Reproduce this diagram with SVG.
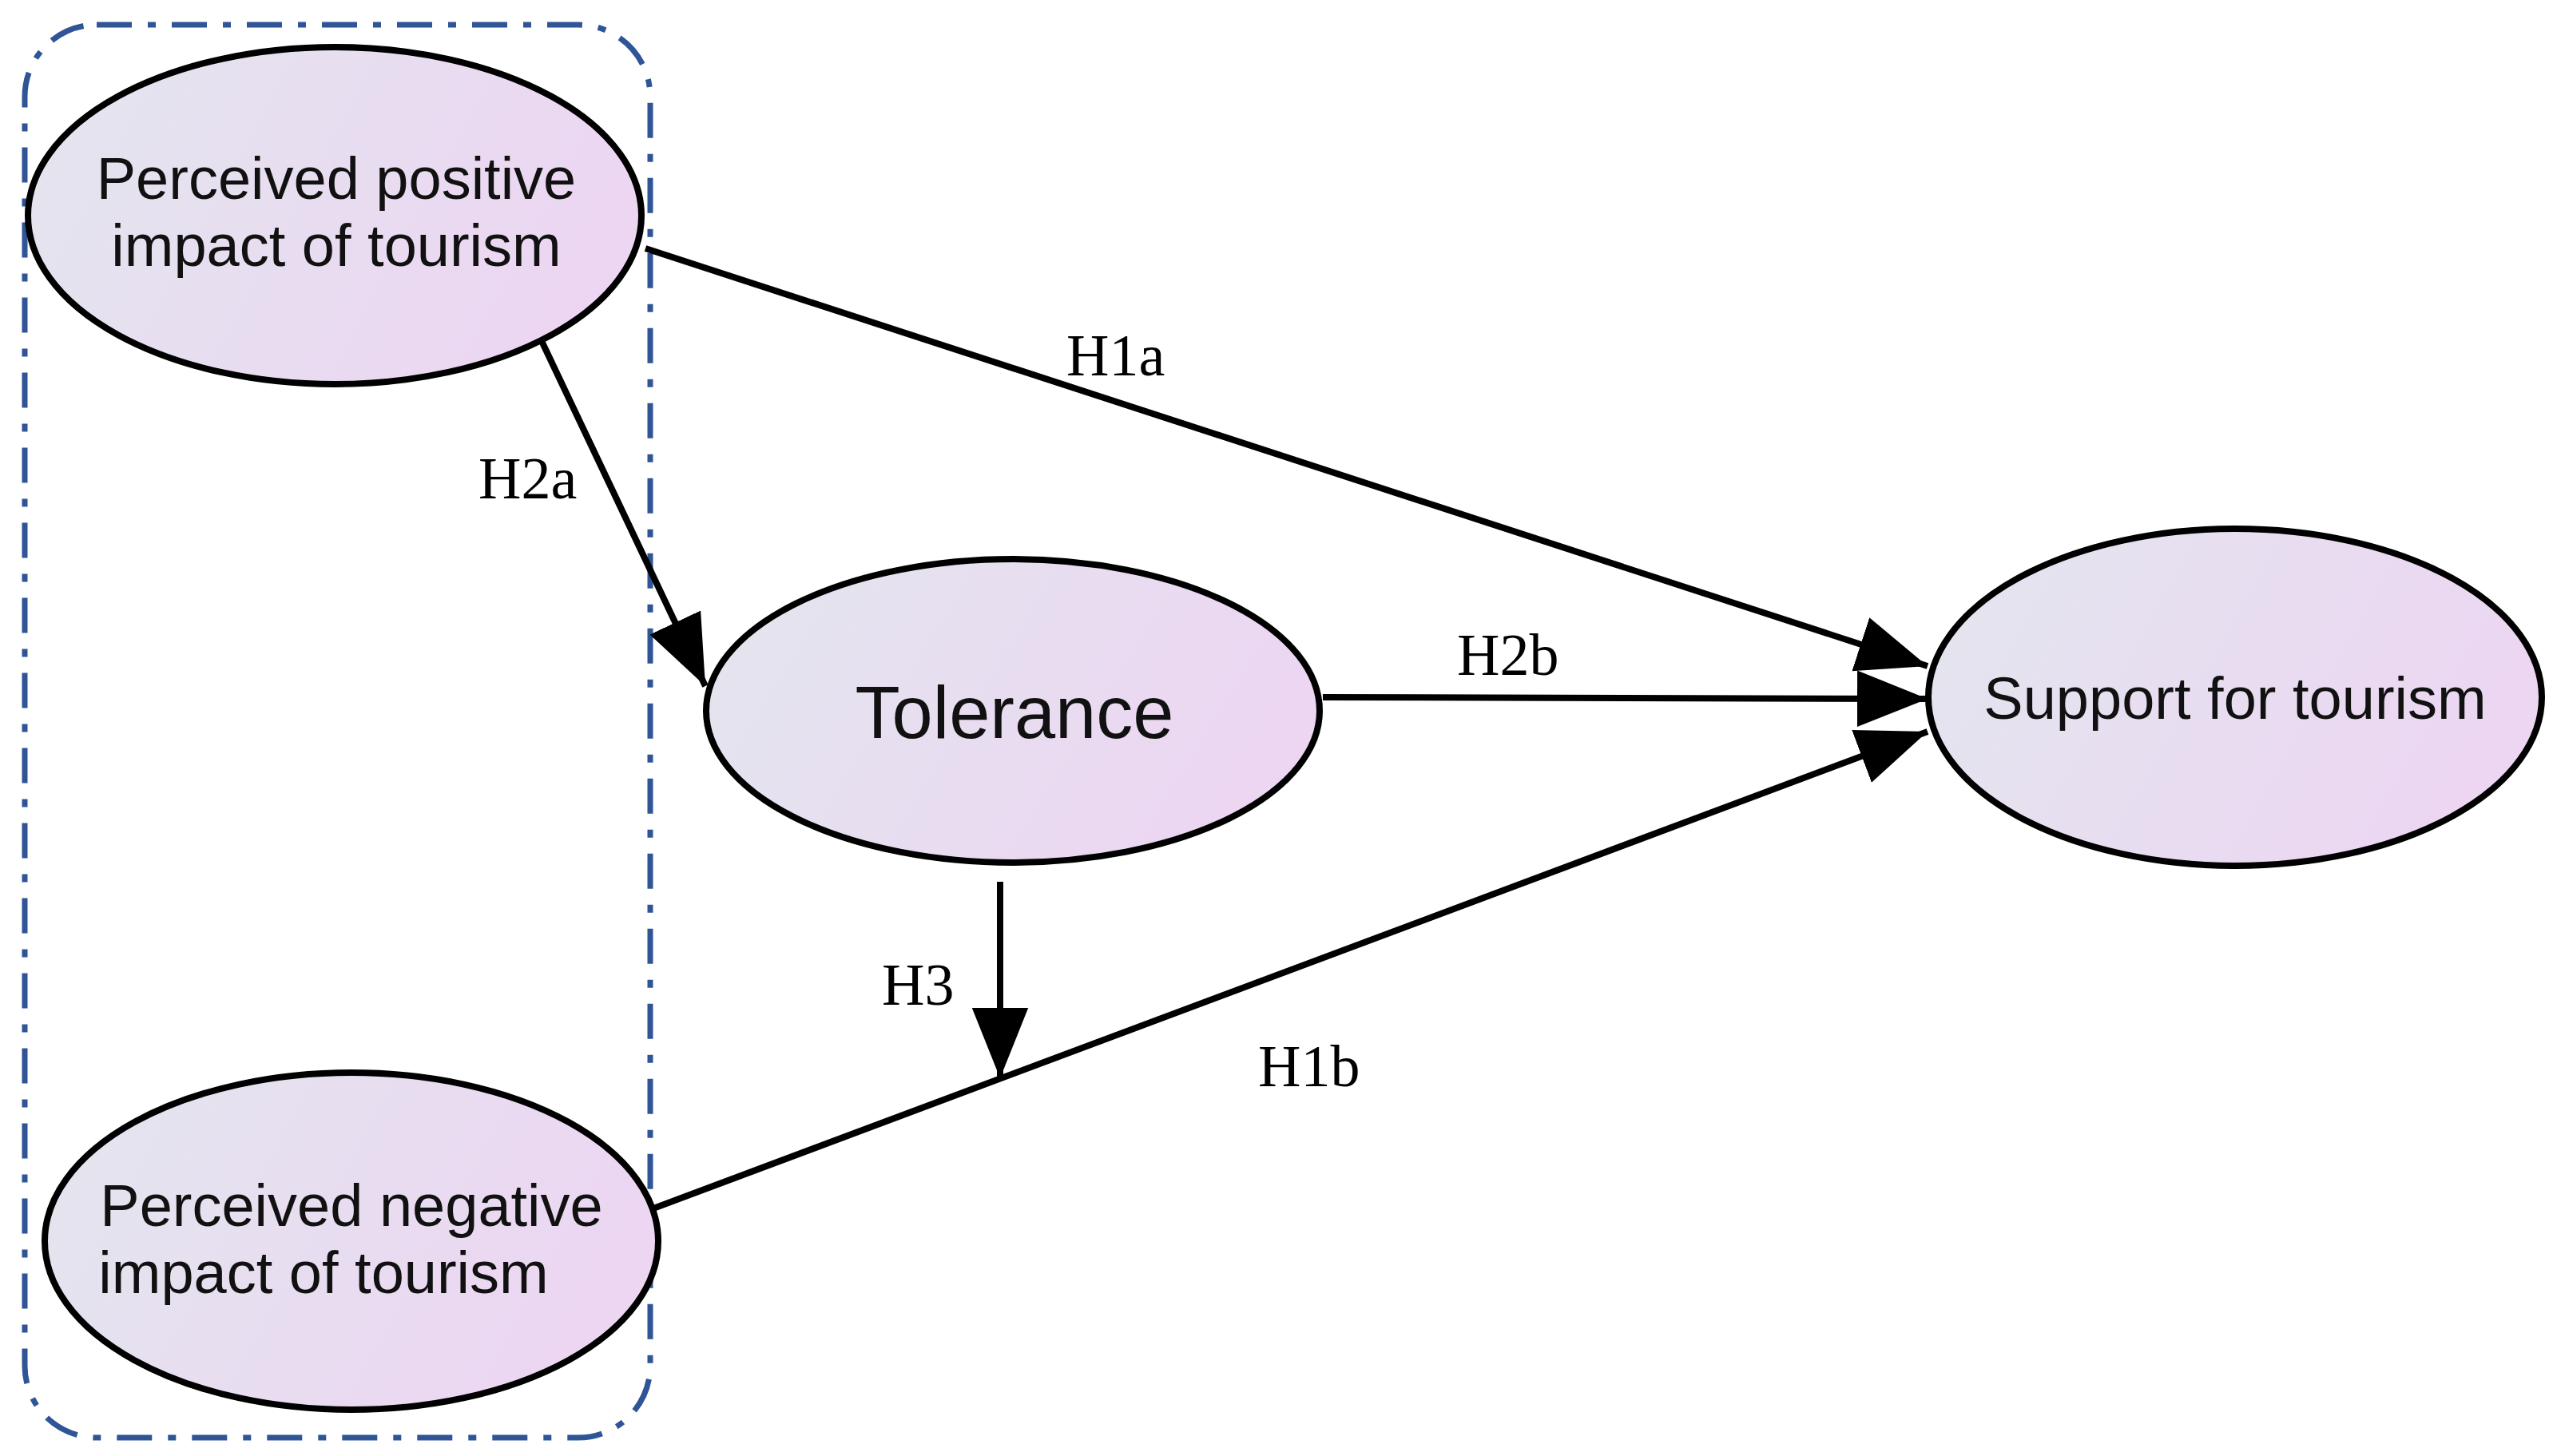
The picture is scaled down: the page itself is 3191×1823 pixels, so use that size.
<svg xmlns="http://www.w3.org/2000/svg" width="3191" height="1823" viewBox="0 0 3191 1823">
<defs>
<linearGradient id="g" x1="0" y1="0" x2="1" y2="0.3"><stop offset="0" stop-color="#e3e6ee"/><stop offset="1" stop-color="#ecd6f2"/></linearGradient>
<marker id="a" viewBox="0 0 10 8" refX="10" refY="4" markerWidth="11" markerHeight="9" markerUnits="strokeWidth" orient="auto"><path d="M0,0 L10,4 L0,8 Z" fill="#000"/></marker>
</defs>
<style>
.n{fill:url(#g);stroke:#000;stroke-width:8}
.t{font-family:"Liberation Sans",Arial,sans-serif;font-size:74px;fill:#111;text-anchor:middle}
.l{font-family:"Liberation Serif","Times New Roman",serif;font-size:74px;fill:#000}
.e{stroke:#000;stroke-width:8;fill:none;marker-end:url(#a)}
</style>
<rect width="3191" height="1823" fill="#fff"/>
<rect x="31" y="31" width="783" height="1769" rx="90" fill="none" stroke="#2f5597" stroke-width="7" stroke-dasharray="44,20,10,20"/>
<g id="connectors">
<line class="e" x1="808" y1="311" x2="2413" y2="834"/>
<line class="e" x1="1656" y1="873" x2="2413" y2="875"/>
<line class="e" x1="818" y1="1513" x2="2413" y2="916"/>
<line class="e" x1="679" y1="429" x2="883" y2="859"/>
<line class="e" x1="1252" y1="1104" x2="1252" y2="1350"/>
<text class="l" x="1335" y="470">H1a</text>
<text class="l" x="599" y="624">H2a</text>
<text class="l" x="1824" y="845">H2b</text>
<text class="l" x="1104" y="1258">H3</text>
<text class="l" x="1575" y="1360">H1b</text>
</g>
<g id="positive"><ellipse class="n" cx="419" cy="270" rx="384" ry="211"/><text class="t" x="421" y="249">Perceived positive</text><text class="t" x="421" y="333">impact of tourism</text></g>
<g id="tolerance"><ellipse class="n" cx="1268" cy="890" rx="384" ry="190"/><text class="t" x="1270" y="924" style="font-size:92px">Tolerance</text></g>
<g id="support"><ellipse class="n" cx="2798" cy="873" rx="384" ry="211"/><text class="t" x="2798" y="900">Support for tourism</text></g>
<g id="negative"><ellipse class="n" cx="440" cy="1554" rx="384" ry="211"/><text class="t" x="440" y="1535">Perceived negative</text><text class="t" x="405" y="1619">impact of tourism</text></g>
</svg>
